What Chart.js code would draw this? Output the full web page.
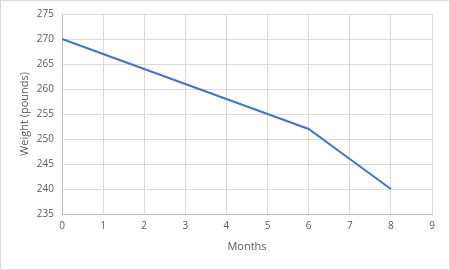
<!DOCTYPE html>
<html>
<head>
<meta charset="utf-8">
<script src="https://cdn.jsdelivr.net/npm/chart.js@4"></script>
<style>
  html, body { margin: 0; padding: 0; background: #fff; }
  #wrap { width: 450px; height: 270px; }
</style>
</head>
<body>
<div id="wrap"><canvas id="weightChart" width="450" height="270"></canvas></div>
<script>
// data
const months = [0, 1, 2, 3, 4, 5, 6, 7, 8];
const weights = [270, 267, 264, 261, 258, 255, 252, 246, 240];

const points = months.map((m, i) => ({ x: m, y: weights[i] }));

// light frame round the whole chart
const frame = {
  id: "frame",
  beforeDraw(chart) {
    const c = chart.ctx;
    c.save();
    c.fillStyle = "#fff";
    c.fillRect(0, 0, chart.width, chart.height);
    c.strokeStyle = "#d9d9d9";
    c.lineWidth = 1;
    c.strokeRect(0.5, 0.5, chart.width - 1, chart.height - 1);
    c.restore();
  }
};

const font = { family: "'Open Sans', 'Liberation Sans', sans-serif", size: 10 };

const ctx = document.getElementById("weightChart").getContext("2d");
new Chart(ctx, {
  type: "line",
  data: {
    datasets: [
      {
        data: points,
        borderColor: "#4472C4",
        borderWidth: 2,
        pointRadius: 0,
        fill: false,
        tension: 0
      }
    ]
  },
  options: {
    responsive: false,
    animation: false,
    layout: { padding: { left: 14, right: 18, top: 14, bottom: 13 } },
    plugins: { legend: { display: false }, tooltip: { enabled: false } },
    scales: {
      x: {
        type: "linear",
        min: 0,
        max: 9,
        ticks: { stepSize: 1, color: "#595959", font: font, padding: 6 },
        grid: { color: "#d9d9d9", drawTicks: false },
        border: { color: "#bfbfbf" },
        title: { display: true, text: "Months", color: "#595959", font: { family: font.family, size: 11 }, padding: { top: 4 } },
        afterFit(scale) { scale.height = 43; }
      },
      y: {
        min: 235,
        max: 275,
        ticks: { stepSize: 5, color: "#595959", font: font, padding: 8 },
        grid: { color: "#d9d9d9", drawTicks: false },
        border: { color: "#bfbfbf" },
        title: { display: true, text: "Weight (pounds)", color: "#595959", font: { family: font.family, size: 11 }, padding: { bottom: 2 } },
        afterFit(scale) { scale.width = 48; }
      }
    }
  },
  plugins: [frame]
});
</script>
</body>
</html>
